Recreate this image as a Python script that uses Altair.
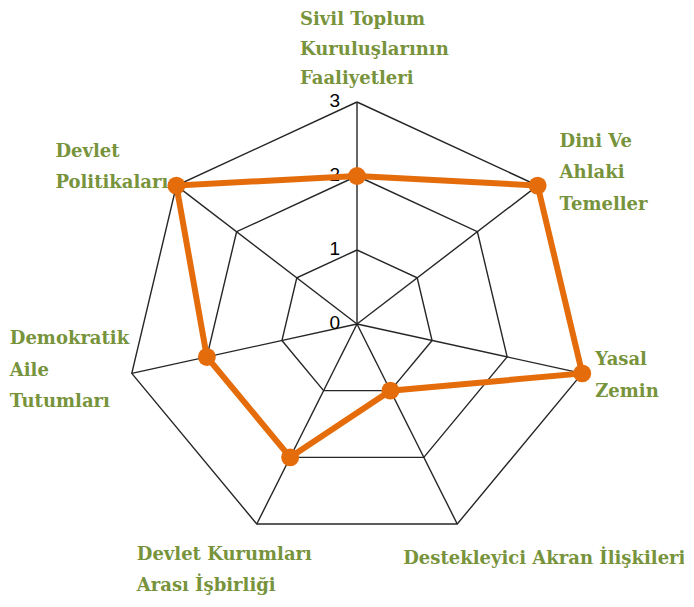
import altair as alt
import pandas as pd
import numpy as np

# ---- data ----
categories = [
    "Sivil Toplum\nKuruluşlarının\nFaaliyetleri",
    "Dini Ve\nAhlaki\nTemeller",
    "Yasal\nZemin",
    "Destekleyici Akran İlişkileri",
    "Devlet Kurumları\nArası İşbirliği",
    "Demokratik\nAile\nTutumları",
    "Devlet\nPolitikaları",
]
values = [2, 3, 3, 1, 2, 2, 3]
levels = [1, 2, 3]
tick_values = [0, 1, 2, 3]
tick_labels = ["0", "1", "2", "3"]

# ---- style / layout (pixels) ----
W, H = 676, 588
UX, UY = 77.0, 74.0          # pixels per unit
CX, CY = 349.0, 316.0        # centre inside plot area
label_dx = [-57, 22, 13, -54, -120, -122, -121]
label_dy = [-91, -53, -22, 25.5, 21.5, -43, -43]
label_lh = [29.5, 31.5, 31.5, 31.5, 31.5, 31.5, 31.5]

n = len(categories)
ang = [2 * np.pi * i / n for i in range(n)]
rmax = max(levels)

xs = alt.Scale(domain=[-CX / UX, (W - CX) / UX], range=[0, W], nice=False, zero=False)
ys = alt.Scale(domain=[CY / UY - H / UY, CY / UY], range=[H, 0], nice=False, zero=False)

grid = pd.DataFrame([
    {"level": lv, "k": k, "x": lv * np.sin(ang[k % n]), "y": lv * np.cos(ang[k % n])}
    for lv in levels for k in range(n + 1)
])
spokes = pd.DataFrame([
    {"x": 0.0, "y": 0.0, "x2": rmax * np.sin(a), "y2": rmax * np.cos(a)} for a in ang
])
series = pd.DataFrame([
    {"k": k, "x": values[k % n] * np.sin(ang[k % n]), "y": values[k % n] * np.cos(ang[k % n])}
    for k in range(n + 1)
])
pts = series.iloc[:n]
labels = pd.DataFrame([
    {"label": categories[i], "lh": label_lh[i],
     "x": rmax * np.sin(ang[i]) + label_dx[i] / UX,
     "y": rmax * np.cos(ang[i]) - label_dy[i] / UY}
    for i in range(n)
])
ticks = pd.DataFrame({"x": [0.0] * len(tick_values), "y": tick_values, "t": tick_labels})

X = lambda f="x": alt.X(f"{f}:Q", scale=xs, axis=None)
Y = lambda f="y": alt.Y(f"{f}:Q", scale=ys, axis=None)

grid_layer = alt.Chart(grid).mark_line(color="#262626", strokeWidth=1.4).encode(
    x=X(), y=Y(), detail="level:N", order="k:Q")
spoke_layer = alt.Chart(spokes).mark_rule(color="#262626", strokeWidth=1.4).encode(
    x=X(), y=Y(), x2="x2:Q", y2="y2:Q")
tick_layer = alt.Chart(ticks).mark_text(
    align="right", baseline="middle", dx=-17, dy=-1,
    font="Liberation Sans", fontSize=19, color="#000000").encode(x=X(), y=Y(), text="t:N")

label_layers = []
for lh in sorted(set(label_lh)):
    sub = labels[labels["lh"] == lh]
    label_layers.append(alt.Chart(sub).mark_text(
        align="left", baseline="top", lineBreak="\n", lineHeight=lh,
        font="DejaVu Serif", fontWeight="bold", fontSize=18, color="#77933C").encode(
        x=X(), y=Y(), text="label:N"))

line_layer = alt.Chart(series).mark_line(color="#E46C0A", strokeWidth=6).encode(
    x=X(), y=Y(), order="k:Q")
pt_layer = alt.Chart(pts).mark_point(
    filled=True, color="#E46C0A", size=320, opacity=1).encode(x=X(), y=Y())

chart = alt.layer(grid_layer, spoke_layer, tick_layer, *label_layers, line_layer, pt_layer).properties(
    width=W, height=H, padding=0, autosize="none", background="white"
).configure_view(stroke=None)

chart.save("out.html", embed_options={"renderer": "svg", "actions": False})
